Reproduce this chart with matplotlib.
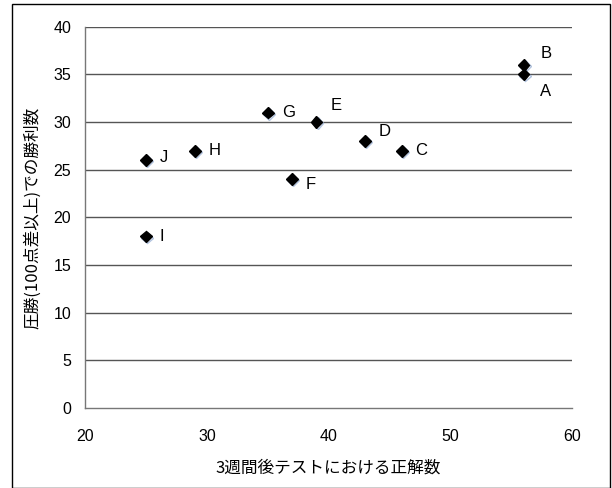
import matplotlib
matplotlib.use("Agg")
import matplotlib.pyplot as plt
import matplotlib.patheffects as pe
from matplotlib.patches import Rectangle

plt.rcParams['font.family'] = ['Noto Sans CJK JP', 'DejaVu Sans']

# データ
names = ["A", "B", "C", "D", "E", "F", "G", "H", "I", "J"]
correct = [56, 56, 46, 43, 39, 37, 35, 29, 25, 25]
wins = [35, 36, 27, 28, 30, 24, 31, 27, 18, 26]
# ラベル位置 (点からのずれ, pt)
offsets = {"A": (12, -12), "B": (12, 8), "D": (10, 7), "E": (10, 12),
           "J": (10, 2), "F": (10, -4)}

fig = plt.figure(figsize=(6.12, 4.88), dpi=100)
ax = fig.add_axes([0.139, 0.164, 0.796, 0.781])

fig.patches.append(Rectangle((12 / 612, 0.0), 598 / 612, 1 - 4 / 488,
                             transform=fig.transFigure, fill=False,
                             edgecolor="black", linewidth=1.0))

for y in range(5, 45, 5):
    ax.axhline(y, color="#555555", linewidth=1.0, zorder=1)

ax.plot(correct, wins, linestyle="none", marker="D", markersize=6,
        color="black", zorder=3,
        path_effects=[pe.SimpleLineShadow(offset=(0.8, -0.8), shadow_color="#9db3d6", alpha=0.8),
                      pe.Normal()])

for n, x, y in zip(names, correct, wins):
    ax.annotate(n, (x, y), xytext=offsets.get(n, (10, 0)), textcoords="offset points",
                ha="left", va="center", fontsize=12, family="Liberation Sans")

ax.set_xlim(20, 60)
ax.set_ylim(0, 40)
ax.set_xticks(range(20, 70, 10))
ax.set_yticks(range(0, 45, 5))
ax.tick_params(length=0, labelsize=11.5)
ax.tick_params(axis="x", pad=15)
ax.tick_params(axis="y", pad=10)
for lbl in ax.get_xticklabels() + ax.get_yticklabels():
    lbl.set_family("Liberation Sans")
for s in ["top", "right"]:
    ax.spines[s].set_visible(False)
for s in ["left", "bottom"]:
    ax.spines[s].set_color("#777777")
    ax.spines[s].set_linewidth(1.0)

ax.set_xlabel("3週間後テストにおける正解数", fontsize=12, labelpad=11)
ax.set_ylabel("圧勝(100点差以上)での勝利数", fontsize=12, labelpad=9)

fig.savefig("out.png", dpi=100)
